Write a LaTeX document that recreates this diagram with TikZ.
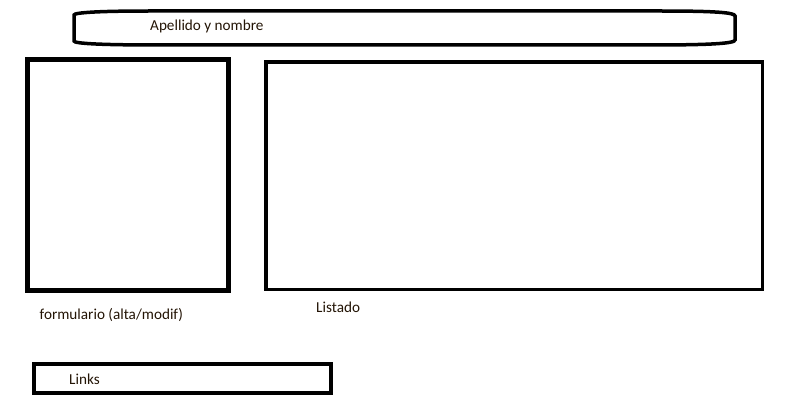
\documentclass[tikz,border=0pt]{standalone}
\usepackage{fontspec}
\setmainfont{Carlito}
\usepackage{tikz}
\usetikzlibrary{calc}

\definecolor{inktext}{RGB}{35,20,5}

\tikzset{
    caja/.style={draw=black, inner sep=0pt, minimum width=#1},
    rotulo/.style={anchor=base west, inner sep=0pt, text=inktext,
        font=\fontsize{15.2}{18}\selectfont},
}

\begin{document}
\begin{tikzpicture}[x=1pt, y=-1pt]
    \useasboundingbox (0,0) rectangle (795,401);
    \node [rotulo] (nombre) at (150,30.3) {Apellido y nombre};
    \draw[line width=3.5pt] (74,15) .. controls (74,12.5) and (100,11) .. (150,11) -- (660,11)
        .. controls (715,11) and (735,12.5) .. (735,16) -- (735,40)
        .. controls (735,43.5) and (710,45) .. (650,45) -- (160,45)
        .. controls (100,45) and (74,43.5) .. (74,41) -- cycle;
    \node [caja=201pt, minimum height=231pt, line width=5pt] (formulario) at (128,175.1) {};
    \node [caja=496.5pt, minimum height=227.5pt, line width=3.3pt] (listado) at (514.25,175.75) {};
    \node [caja=297pt, minimum height=28.4pt, line width=4pt] (links) at (182.5,378.5) {};
    \node [rotulo] (formtxt) at (39.5,319) {formulario (alta/modif)};
    \node [rotulo] (listtxt) at (316,312.7) {Listado};
    \node [rotulo] (linktxt) at (69,384.3) {Links};
\end{tikzpicture}
\end{document}
